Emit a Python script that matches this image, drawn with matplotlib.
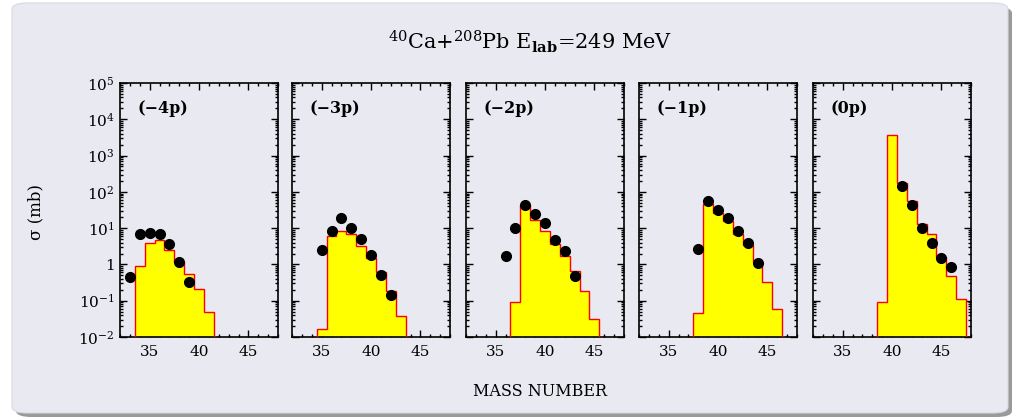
import numpy as np
import matplotlib
matplotlib.use("Agg")
import matplotlib.pyplot as plt
from matplotlib.patches import FancyBboxPatch
from matplotlib.ticker import LogLocator, FixedLocator, MultipleLocator, NullFormatter

plt.rcParams['font.family'] = ['DejaVu Serif']
plt.rcParams['mathtext.fontset'] = 'dejavuserif'

# channel labels
channels = ['(−4p)', '(−3p)', '(−2p)', '(−1p)', '(0p)']

# calculated cross sections (histogram), first mass number + values
calc_start = [34, 35, 37, 38, 39]
calc_vals = [
    [0.88, 3.9, 4.6, 2.5, 1.14, 0.55, 0.21, 0.05],
    [0.017, 6.0, 8.4, 7.1, 3.2, 1.47, 0.61, 0.19, 0.037],
    [0.094, 42.5, 16.3, 8.6, 3.7, 1.74, 0.65, 0.18, 0.032],
    [0.045, 47, 26.7, 15.6, 7.0, 3.5, 1.14, 0.32, 0.059],
    [0.09, 3750, 174, 56, 13.2, 7.1, 1.6, 0.48, 0.109],
]

# measured cross sections (points)
exp_mass = [
    [33, 34, 35, 36, 37, 38, 39],
    [35, 36, 37, 38, 39, 40, 41, 42],
    [36, 37, 38, 39, 40, 41, 42, 43],
    [38, 39, 40, 41, 42, 43, 44],
    [41, 42, 43, 44, 45, 46],
]
exp_vals = [
    [0.44, 7.1, 7.4, 6.8, 3.75, 1.2, 0.32],
    [2.45, 8.4, 19.4, 10.2, 5.1, 1.86, 0.51, 0.14],
    [1.74, 10.2, 42.7, 25, 14, 4.6, 2.3, 0.49],
    [2.6, 56, 31, 19, 8.4, 4.0, 1.1],
    [147, 44, 10.2, 3.9, 1.47, 0.84],
]

W, H = 1018, 418
fig = plt.figure(figsize=(W / 100, H / 100), dpi=100)
fig.patch.set_facecolor('white')

bg = '#e9e9f2'
# shadow + rounded panel
fig.patches.append(FancyBboxPatch((16 / W, 1 / H), 996 / W, 410 / H,
                                  boxstyle="round,pad=0,rounding_size=0.015",
                                  transform=fig.transFigure, facecolor='#9a9a9a',
                                  edgecolor='none', zorder=-10))
fig.patches.append(FancyBboxPatch((12 / W, 5 / H), 996 / W, 410 / H,
                                  boxstyle="round,pad=0,rounding_size=0.015",
                                  transform=fig.transFigure, facecolor=bg,
                                  edgecolor='#d8d8e0', lw=0.8, zorder=-9))

lefts = [120, 292, 466, 639, 813]
pw, top, bot = 158, 83, 337

ytick_vals = [1e-2, 1e-1, 1, 1e1, 1e2, 1e3, 1e4, 1e5]
ytick_labs = ['10$^{-2}$', '10$^{-1}$', '1', '10$^{1}$', '10$^{2}$',
              '10$^{3}$', '10$^{4}$', '10$^{5}$']

for i in range(5):
    ax = fig.add_axes([lefts[i] / W, (H - bot) / H, pw / W, (bot - top) / H])
    ax.set_facecolor(bg)
    ax.set_yscale('log')
    ax.set_xlim(32, 48)
    ax.set_ylim(1e-2, 1e5)

    vals = np.array(calc_vals[i])
    edges = np.arange(len(vals) + 1) + calc_start[i] - 0.5
    ax.stairs(vals, edges, baseline=1e-3, fill=True, color='yellow', zorder=2)
    ax.stairs(vals, edges, baseline=1e-3, color='red', lw=1.0, zorder=3)

    ax.plot(exp_mass[i], exp_vals[i], 'o', color='black', ms=7, zorder=4,
            clip_on=False)

    ax.xaxis.set_major_locator(FixedLocator([35, 40, 45]))
    ax.xaxis.set_minor_locator(MultipleLocator(1))
    ax.yaxis.set_major_locator(FixedLocator(ytick_vals))
    ax.yaxis.set_minor_locator(LogLocator(base=10, subs=np.arange(2, 10), numticks=20))
    ax.yaxis.set_minor_formatter(NullFormatter())
    ax.tick_params(which='both', direction='in', top=True, right=True, width=1)
    ax.tick_params(which='major', length=5)
    ax.tick_params(which='minor', length=2.5)
    ax.tick_params(axis='x', labelsize=11, pad=6)
    if i == 0:
        ax.set_yticklabels(ytick_labs)
        ax.tick_params(axis='y', labelsize=11, pad=4)
    else:
        ax.set_yticklabels([])
    for s in ax.spines.values():
        s.set_linewidth(1.2)

    ax.text(0.11, 0.9, channels[i], transform=ax.transAxes, fontsize=11.5,
            fontweight='semibold', va='center', ha='left')

fig.text(530 / W, 1 - 42 / H, r'$^{40}$Ca+$^{208}$Pb E$_{\mathbf{lab}}$=249 MeV',
         ha='center', va='center', fontsize=15)
fig.text(540 / W, 1 - 392 / H, 'MASS NUMBER', ha='center', va='center',
         fontsize=11.5)
fig.text(36 / W, 1 - 212 / H, 'σ (mb)', ha='center', va='center',
         rotation=90, fontsize=12)

fig.savefig('out.png', dpi=100, facecolor='white')
